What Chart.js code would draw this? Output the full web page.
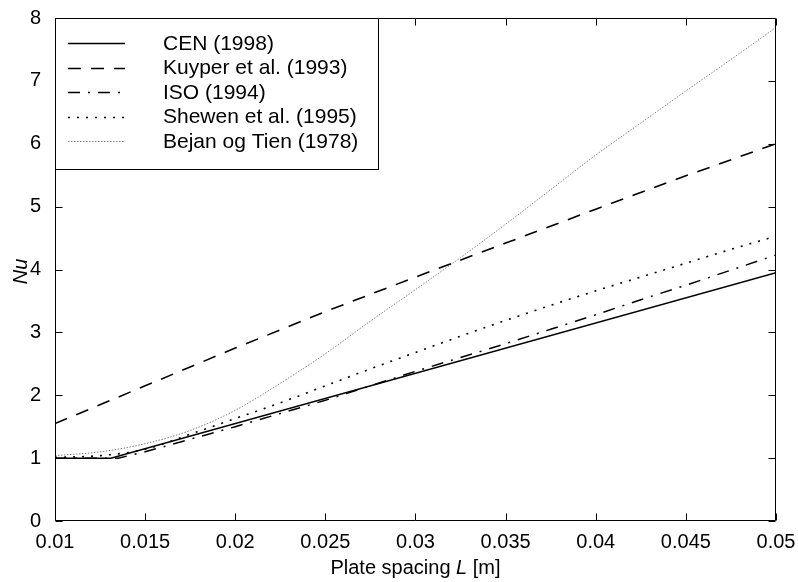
<!DOCTYPE html>
<html>
<head>
<meta charset="utf-8">
<title>Nu vs plate spacing</title>
<script src="https://cdn.jsdelivr.net/npm/chart.js@4.4.0/dist/chart.umd.min.js"></script>
<style>
    html, body { margin: 0; padding: 0; background: #fff; }
    #wrap { width: 798px; height: 582px; }
</style>
</head>
<body>
<div id="wrap"><canvas id="nuChart" width="798" height="582"></canvas></div>
<script>
// verdier lest av figuren
const xTicks = [0.01, 0.015, 0.02, 0.025, 0.03, 0.035, 0.04, 0.045, 0.05];
const yTicks = [0, 1, 2, 3, 4, 5, 6, 7, 8];

const cenL = [0.01, 0.0131, 0.05];
const cenNu = [1.0, 1.0, 3.95];

const kuyperL = [0.01, 0.015, 0.02, 0.025, 0.03, 0.035, 0.04, 0.045, 0.05];
const kuyperNu = [1.55, 2.15, 2.75, 3.33, 3.88, 4.42, 4.96, 5.49, 6.0];

const isoL = [0.01, 0.0135, 0.015, 0.0175, 0.02, 0.0225, 0.025, 0.0275, 0.03, 0.0325, 0.035, 0.0375, 0.04, 0.0425, 0.045, 0.0475, 0.05];
const isoNu = [1.0, 1.0, 1.1, 1.3, 1.5, 1.71, 1.92, 2.15, 2.38, 2.6, 2.82, 3.05, 3.28, 3.52, 3.75, 3.99, 4.23];

const shewenL = [0.01, 0.0125, 0.015, 0.0175, 0.02, 0.0225, 0.025, 0.0275, 0.03, 0.0325, 0.035, 0.0375, 0.04, 0.0425, 0.045, 0.0475, 0.05];
const shewenNu = [1.01, 1.04, 1.14, 1.38, 1.63, 1.88, 2.15, 2.42, 2.68, 2.94, 3.19, 3.43, 3.66, 3.88, 4.1, 4.32, 4.53];

const bejanL = [0.01, 0.0125, 0.015, 0.0175, 0.02, 0.0225, 0.025, 0.0275, 0.03, 0.0325, 0.035, 0.0375, 0.04, 0.0425, 0.045, 0.0475, 0.05];
const bejanNu = [1.04, 1.1, 1.23, 1.44, 1.76, 2.19, 2.66, 3.18, 3.68, 4.19, 4.72, 5.27, 5.82, 6.33, 6.84, 7.34, 7.85];

function pts(xs, ys) {
    return xs.map(function (v, i) { return { x: v, y: ys[i] }; });
}

const FONT = "'Liberation Sans', Arial, Helvetica, sans-serif";

// ramme med innoverpekende tick-streker
const framePlugin = {
    id: 'frame',
    afterDatasetsDraw(chart) {
        const ctx = chart.ctx;
        const a = chart.chartArea;
        const sx = chart.scales.x, sy = chart.scales.y;
        const L = Math.round(a.left) + 0.5, R = Math.round(a.right) - 0.5;
        const T = Math.round(a.top) + 0.5, B = Math.round(a.bottom) - 0.5;
        const tl = 7;
        ctx.save();
        ctx.strokeStyle = '#000';
        ctx.lineWidth = 1;
        ctx.setLineDash([]);
        ctx.beginPath();
        ctx.rect(L, T, R - L, B - T);
        xTicks.forEach(function (v) {
            const px = Math.round(sx.getPixelForValue(v)) + 0.5;
            ctx.moveTo(px, B); ctx.lineTo(px, B - tl);
            ctx.moveTo(px, T); ctx.lineTo(px, T + tl);
        });
        yTicks.forEach(function (v) {
            const py = Math.round(sy.getPixelForValue(v)) + 0.5;
            ctx.moveTo(L, py); ctx.lineTo(L + tl, py);
            ctx.moveTo(R, py); ctx.lineTo(R - tl, py);
        });
        ctx.stroke();
        ctx.restore();
    },
    afterDraw(chart) {
        const ctx = chart.ctx;
        const a = chart.chartArea;
        ctx.save();

        // legend-boks
        const bx = Math.round(a.left) + 0.5, by = Math.round(a.top) + 0.5;
        const bw = 323, bh = 151;
        ctx.fillStyle = '#fff';
        ctx.fillRect(bx, by, bw, bh);
        ctx.strokeStyle = '#000';
        ctx.lineWidth = 1;
        ctx.strokeRect(bx, by, bw, bh);

        ctx.font = '21px ' + FONT;
        ctx.textBaseline = 'middle';
        ctx.textAlign = 'left';
        chart.data.datasets.forEach(function (ds, i) {
            const yy = 43 + i * 24.5;
            ctx.save();
            ctx.strokeStyle = ds.borderColor;
            ctx.lineWidth = ds.borderWidth;
            ctx.setLineDash(ds.borderDash || []);
            ctx.beginPath();
            ctx.moveTo(68, Math.round(yy) + 0.5);
            ctx.lineTo(125, Math.round(yy) + 0.5);
            ctx.stroke();
            ctx.restore();
            ctx.fillStyle = '#000';
            ctx.fillText(ds.label, 163, yy + 1);
        });

        // aksetitler
        ctx.fillStyle = '#000';
        ctx.textBaseline = 'alphabetic';
        const parts = [['Plate spacing ', ''], ['L', 'italic '], [' [m]', '']];
        let total = 0;
        parts.forEach(function (p) { ctx.font = p[1] + '20px ' + FONT; total += ctx.measureText(p[0]).width; });
        let cx = (a.left + a.right) / 2 - total / 2;
        parts.forEach(function (p) {
            ctx.font = p[1] + '20px ' + FONT;
            ctx.fillText(p[0], cx, 574);
            cx += ctx.measureText(p[0]).width;
        });

        ctx.translate(27, (a.top + a.bottom) / 2 + 2);
        ctx.rotate(-Math.PI / 2);
        ctx.font = 'italic 20px ' + FONT;
        ctx.textAlign = 'center';
        ctx.fillText('Nu', 0, 0);
        ctx.restore();
    }
};

function createChart() {
    const ctx = document.getElementById('nuChart').getContext('2d');
    window._nuChart = new Chart(ctx, {
        type: 'line',
        data: {
            datasets: [
                { label: 'CEN (1998)', data: pts(cenL, cenNu), borderColor: '#000', borderWidth: 1.5 },
                { label: 'Kuyper et al. (1993)', data: pts(kuyperL, kuyperNu), borderColor: '#000', borderWidth: 1.6, borderDash: [13, 10] },
                { label: 'ISO (1994)', data: pts(isoL, isoNu), borderColor: '#000', borderWidth: 1.5, borderDash: [12, 8, 2, 8] },
                { label: 'Shewen et al. (1995)', data: pts(shewenL, shewenNu), borderColor: '#000', borderWidth: 1.6, borderDash: [2, 7], cubicInterpolationMode: 'monotone' },
                { label: 'Bejan og Tien (1978)', data: pts(bejanL, bejanNu), borderColor: '#808080', borderWidth: 1, borderDash: [1.5, 1.5], cubicInterpolationMode: 'monotone' }
            ]
        },
        options: {
            responsive: false,
            animation: false,
            devicePixelRatio: 1,
            elements: { point: { radius: 0 }, line: { tension: 0, fill: false } },
            layout: { padding: { top: 16, right: 22, left: 0, bottom: 0 } },
            plugins: { legend: { display: false }, tooltip: { enabled: false } },
            scales: {
                x: {
                    type: 'linear',
                    min: 0.01, max: 0.05,
                    afterBuildTicks: function (s) { s.ticks = xTicks.map(function (v) { return { value: v }; }); },
                    afterFit: function (s) { s.height = 61; },
                    grid: { display: false },
                    border: { display: false },
                    ticks: {
                        autoSkip: false, maxRotation: 0, padding: 1,
                        color: '#000', font: { family: FONT, size: 20 },
                        callback: function (v) { return String(Number(v.toFixed(3))); }
                    }
                },
                y: {
                    min: 0, max: 8,
                    afterBuildTicks: function (s) { s.ticks = yTicks.map(function (v) { return { value: v }; }); },
                    afterFit: function (s) { s.width = 55; },
                    grid: { display: false },
                    border: { display: false },
                    ticks: {
                        padding: 6, color: '#000', font: { family: FONT, size: 20 }
                    }
                }
            }
        },
        plugins: [framePlugin]
    });
}

createChart();
</script>
</body>
</html>
